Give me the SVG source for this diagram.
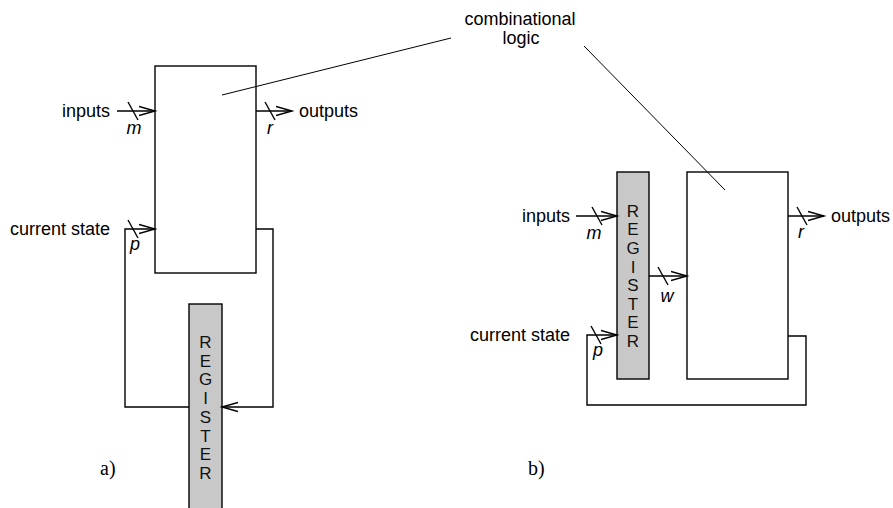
<svg xmlns="http://www.w3.org/2000/svg" width="893" height="508" viewBox="0 0 893 508">
<style>
.box{fill:#fff;stroke:#000;stroke-width:1.4}
.reg{fill:#c8c8c8;stroke:#000;stroke-width:1.4}
.w{fill:none;stroke:#000;stroke-width:1.4}
.lead{fill:none;stroke:#000;stroke-width:1}
.t{font-family:"Liberation Sans",Arial,sans-serif;font-size:18px;fill:#000}
.i{font-family:"Liberation Sans",Arial,sans-serif;font-size:18px;font-style:italic;fill:#000;text-anchor:middle}
.rl{font-family:"Liberation Sans",Arial,sans-serif;font-size:17px;fill:#111;text-anchor:middle}
.lbl{font-family:"Liberation Serif","Times New Roman",serif;font-size:20px;fill:#000}
</style>
<defs>
<marker id="ah" markerUnits="userSpaceOnUse" markerWidth="20" markerHeight="12" refX="16" refY="5" orient="auto" viewBox="0 0 20 10">
<path d="M0,0.5 L16,5 L0,9.5" fill="none" stroke="#000" stroke-width="1.4"/>
</marker>
</defs>

<!-- Panel a -->
<g id="a-comb"><rect class="box" x="155" y="66" width="101" height="207"/></g>
<g id="a-register">
<rect class="reg" x="189" y="304" width="33" height="210"/>
<text class="rl" x="205.5" y="348">R</text>
<text class="rl" x="205.5" y="366.7">E</text>
<text class="rl" x="205.5" y="385.4">G</text>
<text class="rl" x="205.5" y="404.1">I</text>
<text class="rl" x="205.5" y="422.8">S</text>
<text class="rl" x="205.5" y="441.5">T</text>
<text class="rl" x="205.5" y="460.2">E</text>
<text class="rl" x="205.5" y="479">R</text>
</g>
<g id="a-labels">
<text class="t" x="110" y="117" text-anchor="end">inputs</text>
<text class="t" x="299" y="117">outputs</text>
<text class="t" x="110" y="235" text-anchor="end">current state</text>
<text class="i" x="134" y="134">m</text>
<text class="i" x="270" y="134">r</text>
<text class="i" x="135" y="250">p</text>
<text class="lbl" x="100" y="475">a)</text>
</g>

<!-- Panel b -->
<g id="b-register">
<rect class="reg" x="617" y="172" width="32" height="207"/>
<text class="rl" x="633" y="216.7">R</text>
<text class="rl" x="633" y="235.3">E</text>
<text class="rl" x="633" y="253.9">G</text>
<text class="rl" x="633" y="272.5">I</text>
<text class="rl" x="633" y="291.1">S</text>
<text class="rl" x="633" y="309.7">T</text>
<text class="rl" x="633" y="328.3">E</text>
<text class="rl" x="633" y="347">R</text>
</g>
<g id="b-comb"><rect class="box" x="687" y="172" width="101" height="207"/></g>
<g id="b-labels">
<text class="t" x="570" y="222" text-anchor="end">inputs</text>
<text class="t" x="831" y="222">outputs</text>
<text class="t" x="570" y="341" text-anchor="end">current state</text>
<text class="i" x="594" y="239">m</text>
<text class="i" x="801" y="238">r</text>
<text class="i" x="667" y="302">w</text>
<text class="i" x="598" y="356">p</text>
<text class="lbl" x="528" y="475">b)</text>
</g>

<g id="comb-label">
<text class="t" x="520" y="25" text-anchor="middle">combinational</text>
<text class="t" x="521" y="44" text-anchor="middle">logic</text>
</g>

<g id="connectors">
<!-- panel a -->
<line class="w" x1="117" y1="111" x2="155" y2="111" marker-end="url(#ah)"/>
<line class="w" x1="128" y1="102" x2="138" y2="120"/>
<line class="w" x1="256" y1="111" x2="292" y2="111" marker-end="url(#ah)"/>
<line class="w" x1="265" y1="102" x2="275" y2="120"/>
<path class="w" d="M256,229 H273 V407 H222" marker-end="url(#ah)"/>
<path class="w" d="M189,407 H125 V229 H155" marker-end="url(#ah)"/>
<line class="w" x1="128" y1="220" x2="138" y2="238"/>
<!-- panel b -->
<line class="w" x1="576" y1="216" x2="617" y2="216" marker-end="url(#ah)"/>
<line class="w" x1="592" y1="207" x2="602" y2="225"/>
<line class="w" x1="649" y1="276" x2="687" y2="276" marker-end="url(#ah)"/>
<line class="w" x1="658" y1="267" x2="668" y2="285"/>
<line class="w" x1="788" y1="216" x2="824" y2="216" marker-end="url(#ah)"/>
<line class="w" x1="797" y1="207" x2="807" y2="225"/>
<path class="w" d="M788,336 H806 V405 H587 V335 H617" marker-end="url(#ah)"/>
<line class="w" x1="591" y1="326" x2="601" y2="344"/>
<!-- leaders -->
<line class="lead" x1="222" y1="95" x2="451" y2="38"/>
<line class="lead" x1="584" y1="46" x2="725" y2="190"/>
</g>
</svg>
